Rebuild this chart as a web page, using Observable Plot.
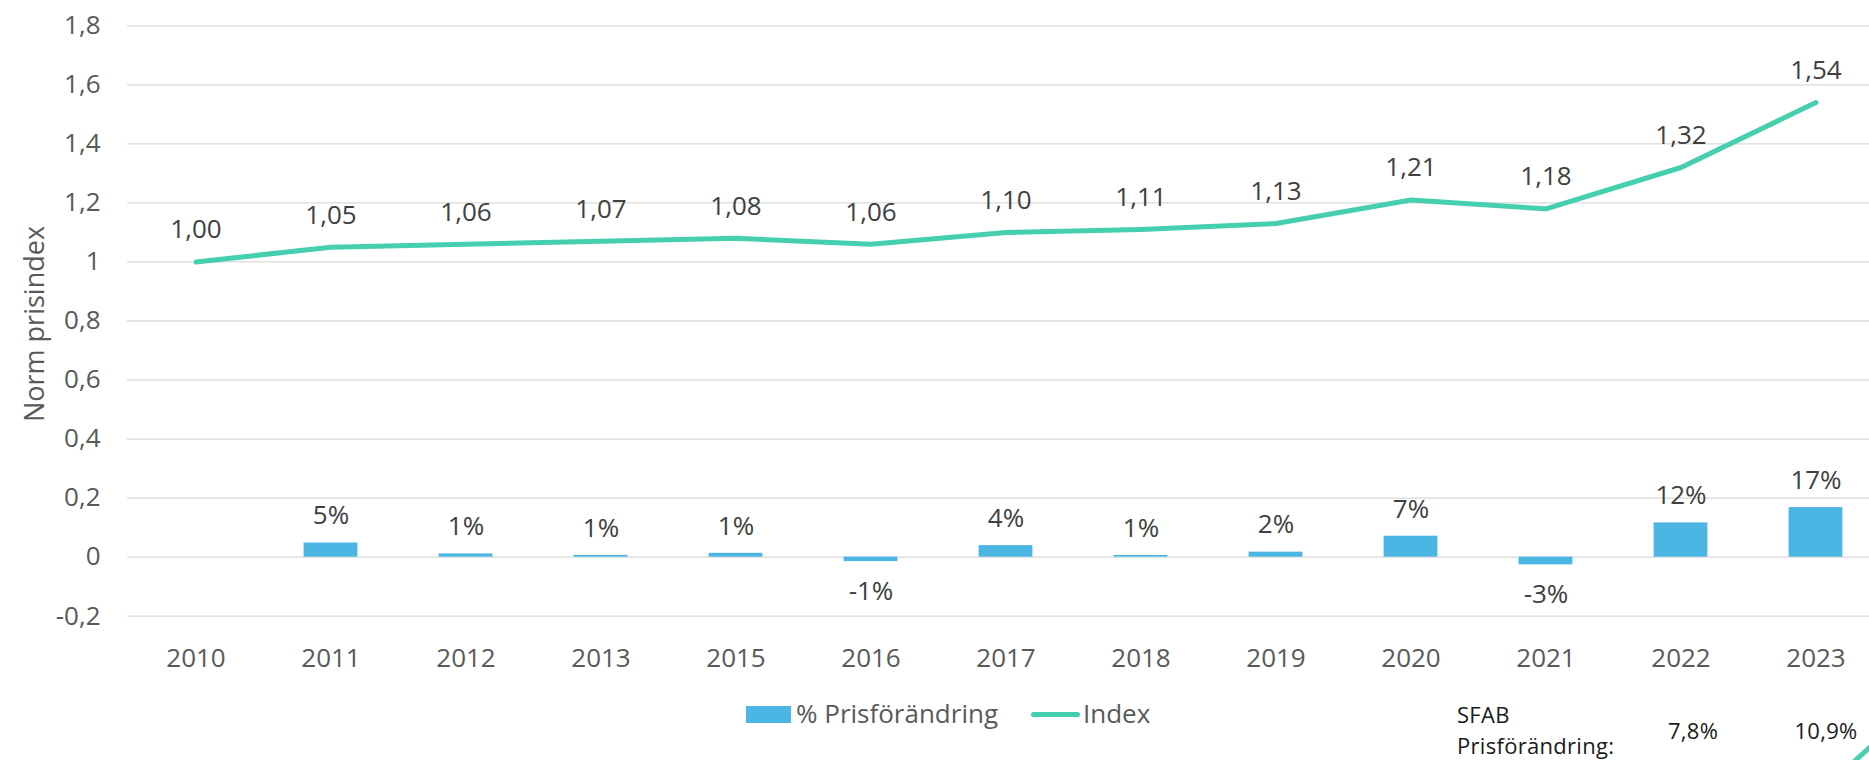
<!DOCTYPE html>
<html><head><meta charset="utf-8">
<script src="https://cdn.jsdelivr.net/npm/d3@7"></script>
<script src="https://cdn.jsdelivr.net/npm/@observablehq/plot@0.6"></script>
<style>
body{margin:0;background:#fff;overflow:hidden;font-family:"Open Sans",sans-serif;}
#wrap{position:relative;width:1869px;height:760px;overflow:hidden;background:#fff;}
#chart{position:absolute;left:0;top:0;}
#ytitle{position:absolute;left:33px;top:324px;transform:translate(-50%,-50%) rotate(-90deg);white-space:nowrap;font-size:27px;color:#595959;line-height:1;}
.leg{position:absolute;font-size:26px;color:#595959;white-space:nowrap;line-height:1;}
.sfab{position:absolute;font-size:22px;color:#1a1a1a;white-space:nowrap;line-height:30px;letter-spacing:0.3px;}
</style></head><body><div id="wrap"><div id="chart"></div><div id="ytitle"></div><div id="legend"></div><div id="sfab"></div></div>
<script>
const years = ["2010","2011","2012","2013","2015","2016","2017","2018","2019","2020","2021","2022","2023"];
const indexValues = [1.00,1.05,1.06,1.07,1.08,1.06,1.10,1.11,1.13,1.21,1.18,1.32,1.54];
const pctChange = [null,0.048,0.011,0.006,0.013,-0.015,0.039,0.006,0.017,0.071,-0.026,0.116,0.168];
const yTicks = [-0.2,0,0.2,0.4,0.6,0.8,1,1.2,1.4,1.6,1.8];
const seriesNames = ["% Prisförändring","Index"];
const seriesColors = ["#4BB5E3","#45CFAE"];
const yTitle = "Norm prisindex";
const sfabLabel = ["SFAB","Prisförändring:"];
const sfabValues = ["7,8%","10,9%"];

const rows = years.map((y,i)=>({year:y, index:indexValues[i], pct:pctChange[i]}));
const bars = rows.filter(d=>d.pct!=null);
const fmtIdx = v => v.toFixed(2).replace(".", ",");
const fmtPct = v => Math.round(v*100) + "%";
const fmtTick = v => String(+v.toFixed(1)).replace(".", ",");

const W = 1869, H = 690, ML = 127, MR = -15.6, MT = 25.3, MB = 74.3;
const band = (W - MR - ML)/years.length;
const barW = 54;
const inset = (band - barW)/2;

const plot = Plot.plot({
  width: W, height: H,
  marginLeft: ML, marginRight: MR, marginTop: MT, marginBottom: MB,
  style: {fontFamily: '"Open Sans", sans-serif', background: "#fff", overflow: "hidden"},
  x: {type: "band", domain: years, paddingInner: 0, paddingOuter: 0},
  y: {domain: [-0.2, 1.8]},
  marks: [
    Plot.gridY(yTicks, {stroke: "#d9d9d9", strokeOpacity: 1, strokeWidth: 1.3}),
    Plot.axisY(yTicks, {tickSize: 0, tickPadding: 27, tickFormat: fmtTick, fontSize: 26, fill: "#595959", label: null}),
    Plot.axisX({tickSize: 0, tickPadding: 32.5, fontSize: 26, fill: "#595959", label: null}),
    Plot.barY(bars, {x: "year", y1: 0, y2: "pct", fill: seriesColors[0], insetLeft: inset, insetRight: inset}),
    Plot.line(rows, {x: "year", y: "index", stroke: seriesColors[1], strokeWidth: 5, strokeLinecap: "round", strokeLinejoin: "round"}),
    Plot.text(rows, {x: "year", y: "index", text: d => fmtIdx(d.index), dy: -32, fontSize: 26, fill: "#404040"}),
    Plot.text(bars.filter(d=>d.pct>0), {x: "year", y: "pct", text: d => fmtPct(d.pct), dy: -27, fontSize: 26, fill: "#404040"}),
    Plot.text(bars.filter(d=>d.pct<0), {x: "year", y: "pct", text: d => fmtPct(d.pct), dy: 30, fontSize: 26, fill: "#404040"})
  ]
});
document.getElementById("chart").appendChild(plot);
document.getElementById("ytitle").textContent = yTitle;

const leg = document.getElementById("legend");
leg.innerHTML = `
<div style="position:absolute;left:746px;top:706px;width:45px;height:17px;background:${seriesColors[0]}"></div>
<div class="leg" style="left:796px;top:700px">${seriesNames[0]}</div>
<div style="position:absolute;left:1031px;top:712px;width:49px;height:5px;border-radius:3px;background:${seriesColors[1]}"></div>
<div class="leg" style="left:1083px;top:700px">${seriesNames[1]}</div>`;

const sf = document.getElementById("sfab");
sf.innerHTML = `
<div class="sfab" style="left:1457px;top:699px">${sfabLabel[0]}</div>
<div class="sfab" style="left:1457px;top:730px">${sfabLabel[1]}</div>
<div class="sfab" style="left:1693px;top:715px;transform:translateX(-50%)">${sfabValues[0]}</div>
<div class="sfab" style="left:1826px;top:715px;transform:translateX(-50%)">${sfabValues[1]}</div>
<div style="position:absolute;left:1851px;top:751px;width:24px;height:5px;background:${seriesColors[1]};transform:rotate(-42deg);"></div>`;
</script></body></html>
